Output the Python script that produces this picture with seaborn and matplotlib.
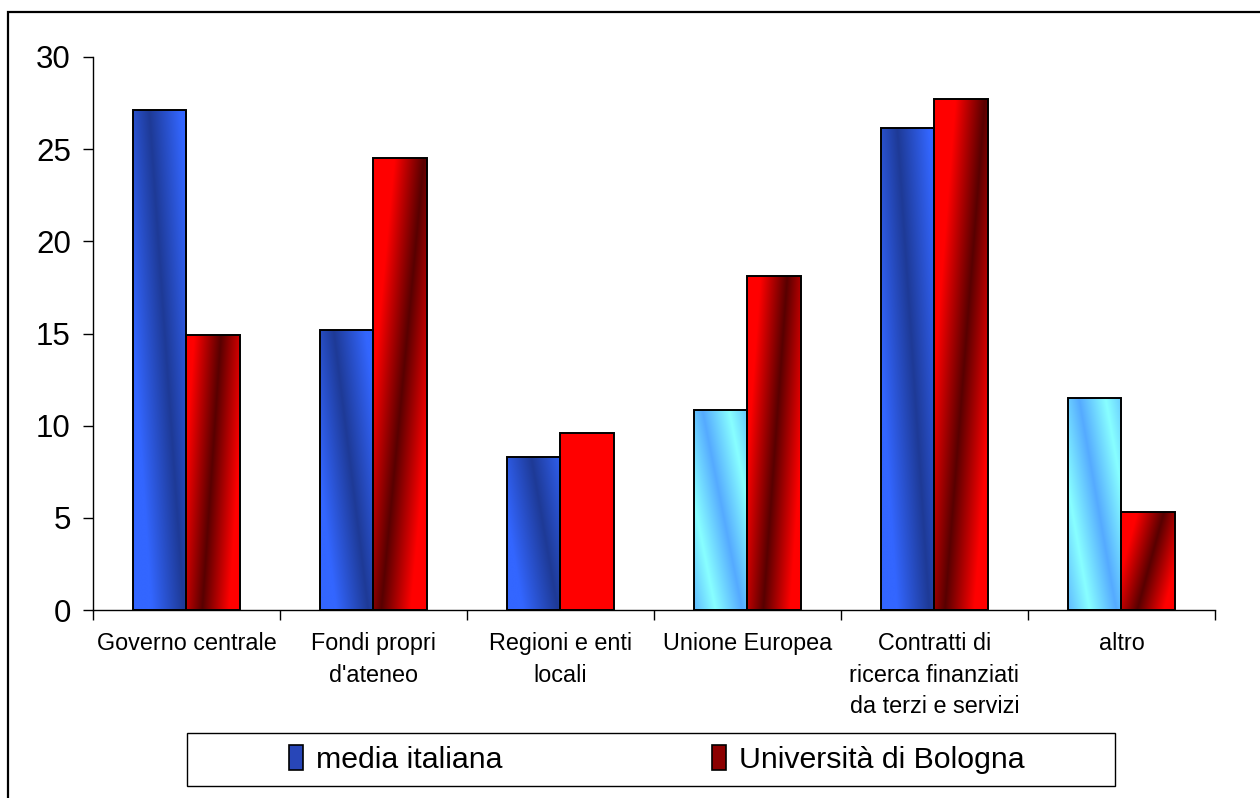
import numpy as np
import pandas as pd
import matplotlib
matplotlib.use("Agg")
import matplotlib.pyplot as plt
import seaborn as sns
from matplotlib.patches import Patch, Rectangle
from matplotlib.colors import to_rgb

# --- data ---
categories = [
    "Governo centrale",
    "Fondi propri\nd'ateneo",
    "Regioni e enti\nlocali",
    "Unione Europea",
    "Contratti di\nricerca finanziati\nda terzi e servizi",
    "altro",
]
series_names = ["media italiana", "Università di Bologna"]
media_italiana = [27.1, 15.2, 8.3, 10.85, 26.15, 11.5]
bologna = [14.9, 24.5, 9.6, 18.1, 27.7, 5.3]
y_ticks = [0, 5, 10, 15, 20, 25, 30]

# gradient looks (bright, dark, dark-stripe x at top, at bottom, half width, periodic)
BLUE = ("#3366ff", "#1e3a96")
CYAN = ("#88ffff", "#55aaff")
RED = ("#ff0000", "#580000")
blue_styles = [
    (BLUE, 0.30, 0.95, 0.60, False),
    (BLUE, 0.25, 0.90, 0.60, False),
    (BLUE, 0.45, 0.95, 0.65, False),
    (CYAN, 0.15, 0.90, 0.50, True),
    (BLUE, 0.30, 0.90, 0.60, False),
    (CYAN, 0.20, 0.90, 0.50, True),
]
red_styles = [
    (RED, 0.65, 0.30, 0.50, False),
    (RED, 0.95, 0.15, 0.55, False),
    (RED, 0.50, 0.50, 0.00, False),
    (RED, 0.75, 0.30, 0.50, False),
    (RED, 0.95, 0.20, 0.55, False),
    (RED, 0.80, 0.30, 0.50, False),
]


def gradient_image(style, nx=80, ny=300):
    (bright, dark), xt, xb, hw, periodic = style
    b = np.array(to_rgb(bright))
    d = np.array(to_rgb(dark))
    xf = np.linspace(0, 1, nx)[None, :]
    t = np.linspace(0, 1, ny)[:, None]  # 0 at top
    c = xt + (xb - xt) * t
    if hw <= 0:
        w = np.zeros((ny, nx))
    elif periodic:
        dd = xf - c
        dd = dd - np.round(dd)
        w = np.clip(1 - np.abs(dd) / hw, 0, 1)
    else:
        w = np.clip(1 - np.abs(xf - c) / hw, 0, 1)
    return b[None, None, :] + (d - b)[None, None, :] * w[:, :, None]


df = pd.DataFrame({
    "categoria": categories * 2,
    "serie": [series_names[0]] * len(categories) + [series_names[1]] * len(categories),
    "valore": media_italiana + bologna,
})

sns.set_style("white")
plt.rcParams["font.family"] = ["Liberation Sans", "DejaVu Sans"]
plt.rcParams["text.color"] = "black"
plt.rcParams["xtick.color"] = "black"
plt.rcParams["ytick.color"] = "black"

fig = plt.figure(figsize=(12.6, 7.98), dpi=100)
ax = fig.add_axes([93 / 1260, 1 - 610 / 798, (1215 - 93) / 1260, (610 - 57) / 798])

sns.barplot(
    data=df, x="categoria", y="valore", hue="serie",
    palette=[BLUE[0], RED[0]], width=0.57, gap=0, legend=False, ax=ax,
    edgecolor="black", linewidth=1.4,
)

# gradient fills clipped to each bar
for container, styles in zip(ax.containers, [blue_styles, red_styles]):
    for bar, style in zip(container.patches, styles):
        x0, w, h = bar.get_x(), bar.get_width(), bar.get_height()
        img = ax.imshow(gradient_image(style), extent=(x0, x0 + w, 0, h),
                        aspect="auto", interpolation="bilinear", zorder=1.5)
        img.set_clip_path(bar)
        bar.set_facecolor("none")
        bar.set_zorder(2)

ax.set_xlim(-0.5, len(categories) - 0.5)
ax.set_ylim(0, 30)
ax.set_yticks(y_ticks)
ax.set_xlabel("")
ax.set_ylabel("")
ax.set_xticks(range(len(categories)))
ax.set_xticklabels(categories, fontsize=16.8, linespacing=1.47, color="black")
ax.set_xticks(np.arange(-0.5, len(categories), 1), minor=True)
ax.tick_params(axis="x", which="major", length=0, pad=16)
ax.tick_params(axis="x", which="minor", length=7, width=1, color="black", direction="out")
ax.tick_params(axis="y", length=7, width=1, color="black", direction="out",
               labelsize=22.5, pad=9, labelcolor="black")
ax.tick_params(axis="both", which="both", bottom=True, left=True)
for s in ["top", "right"]:
    ax.spines[s].set_visible(False)
for s in ["left", "bottom"]:
    ax.spines[s].set_color("black")
    ax.spines[s].set_linewidth(1)

# outer chart frame
fig.patches.append(Rectangle((8 / 1260, -0.05), 1.2, 1 - 12 / 798 + 0.05,
                             transform=fig.transFigure, fill=False,
                             edgecolor="black", linewidth=1.6, clip_on=False))
# legend frame
fig.patches.append(Rectangle((187 / 1260, 1 - 786 / 798), (1115 - 187) / 1260, 53 / 798,
                             transform=fig.transFigure, fill=False,
                             edgecolor="black", linewidth=1))

handles = [
    Patch(facecolor="#2846b8", edgecolor="black", linewidth=1.2),
    Patch(facecolor="#8c0000", edgecolor="black", linewidth=1.2),
]
leg = fig.legend(handles, series_names, loc="center",
                 bbox_to_anchor=(657 / 1260, 1 - 759.5 / 798),
                 ncol=2, frameon=False, fontsize=21.8, handlelength=0.45, handleheight=0.9,
                 handletextpad=0.45, columnspacing=6.9, borderpad=0)
for txt in leg.get_texts():
    txt.set_color("black")

fig.savefig("out.png", dpi=100)
